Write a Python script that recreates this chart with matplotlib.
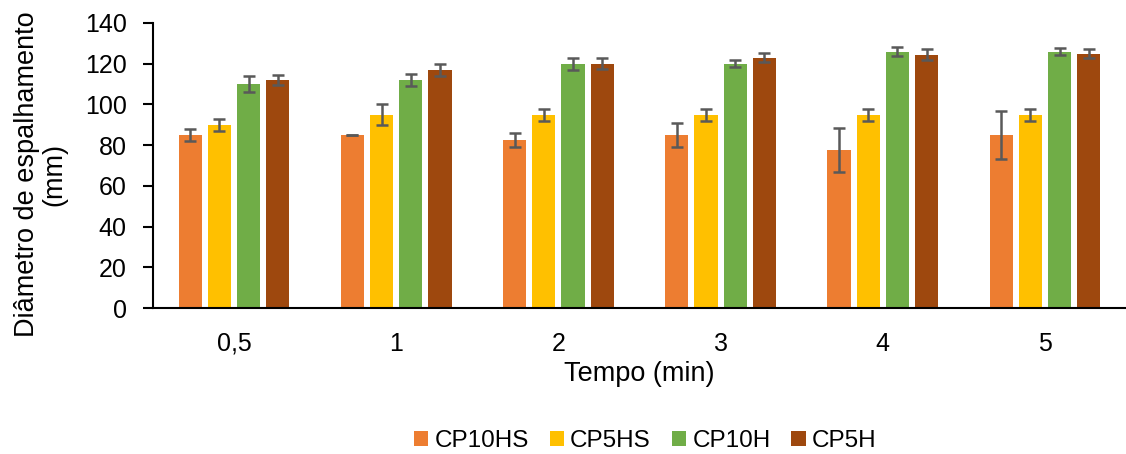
import numpy as np
import matplotlib
matplotlib.use("Agg")
import matplotlib.pyplot as plt

plt.rcParams['font.family'] = ['Liberation Sans', 'DejaVu Sans']

# tempo (min)
tempos = ["0,5", "1", "2", "3", "4", "5"]
series = ["CP10HS", "CP5HS", "CP10H", "CP5H"]
cores = ["#ED7D31", "#FFC000", "#70AD47", "#9E480E"]

# diametro de espalhamento (mm) e desvios
cp10hs = [85, 85, 82.5, 85, 77.5, 85]
cp5hs = [90, 95, 95, 95, 95, 95]
cp10h = [110, 112, 120, 120, 126, 126]
cp5h = [112, 117, 120, 123, 124.3, 125]

err_cp10hs = [3, 0.1, 3.6, 5.8, 10.7, 11.6]
err_cp5hs = [3, 5, 3, 3, 3, 3]
err_cp10h = [4, 3, 3, 1.7, 2.2, 1.6]
err_cp5h = [2.5, 3, 2.6, 2.4, 2.7, 2.4]

valores = [cp10hs, cp5hs, cp10h, cp5h]
erros = [err_cp10hs, err_cp5hs, err_cp10h, err_cp5h]

fig = plt.figure(figsize=(11.26, 4.54), dpi=100)
ax = fig.add_axes([153/1126, 1 - 308/454, 1 - 153/1126, 285/454])

x = np.arange(len(tempos))
passo = 0.18
largura = 0.143
for i in range(4):
    pos = x + (i - 1.5) * passo
    ax.bar(pos, valores[i], largura, color=cores[i], label=series[i],
           yerr=erros[i], capsize=4.5,
           error_kw=dict(ecolor="#595959", elinewidth=1.8, capthick=1.8))

ax.set_xlim(-0.5, len(tempos) - 0.5)
ax.set_ylim(0, 140)
ax.set_yticks(range(0, 141, 20))
ax.set_xticks(x)
ax.set_xticklabels(tempos)
ax.tick_params(axis='x', length=0, pad=17, labelsize=18)
ax.tick_params(axis='y', length=7, width=1.5, direction='out', pad=12, labelsize=18)
for s in ["top", "right"]:
    ax.spines[s].set_visible(False)
ax.spines["left"].set_linewidth(1.5)
ax.spines["bottom"].set_linewidth(1.5)

ax.set_xlabel("Tempo (min)", fontsize=19.5, labelpad=4)
ax.set_ylabel("Diâmetro de espalhamento\n(mm)", fontsize=19.5, linespacing=1.05)
ax.yaxis.set_label_coords(-0.088, 0.47)

fig.legend(loc="center", bbox_to_anchor=(0.573, 1 - 441/454), ncol=4,
           frameon=False, fontsize=17.5, handlelength=0.6, handleheight=0.6,
           columnspacing=0.85, handletextpad=0.25)

fig.savefig("out.png", dpi=100)
